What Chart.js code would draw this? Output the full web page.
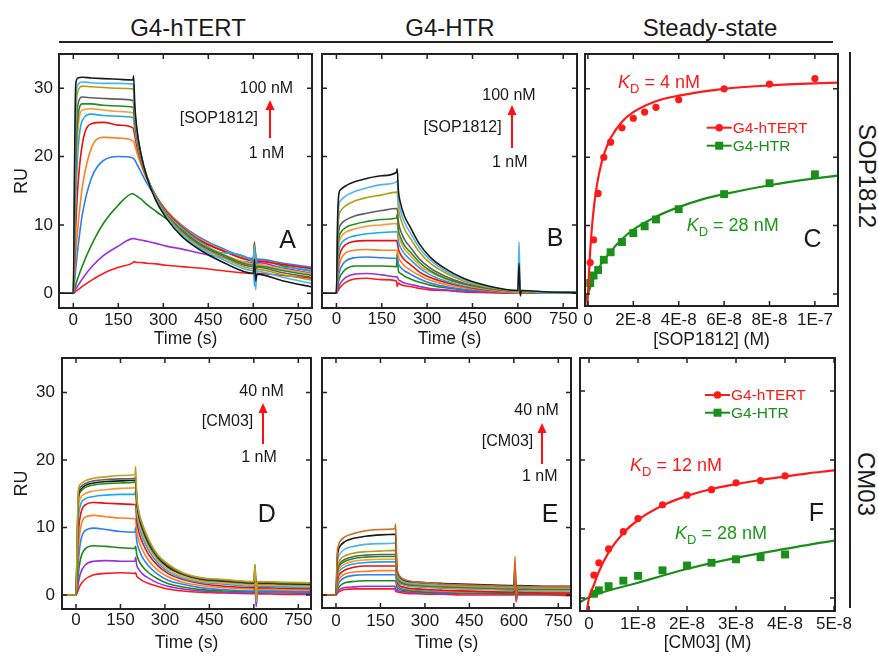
<!DOCTYPE html>
<html><head><meta charset="utf-8">
<script src="https://cdn.jsdelivr.net/npm/chart.js@4.4.1/dist/chart.umd.min.js"></script>
<style>
html,body{margin:0;padding:0;background:#fff;}
body{width:878px;height:656px;position:relative;overflow:hidden;font-family:"Liberation Sans",Arial,sans-serif;color:#1a1a1a;}
.box{position:absolute;}
.t{position:absolute;white-space:nowrap;line-height:1;}
.c{transform:translate(-50%,-50%);}
.l{transform:translateY(-50%);}
.r{transform:translate(-100%,-50%);}
.sub{font-size:13px;position:relative;top:5px;font-style:normal;}
.hline{position:absolute;background:#222;}
</style></head><body>

<div class="t c" style="left:188px;top:28px;font-size:24px">G4-hTERT</div>
<div class="t c" style="left:450px;top:28px;font-size:24px">G4-HTR</div>
<div class="t c" style="left:710px;top:28px;font-size:24px">Steady-state</div>
<div class="hline" style="left:59px;top:41px;width:774px;height:2px"></div>
<div class="hline" style="left:849px;top:52px;width:2px;height:556px"></div>
<div class="t c" style="left:867px;top:176px;font-size:24px;transform:translate(-50%,-50%) rotate(90deg)">SOP1812</div>
<div class="t c" style="left:866px;top:484px;font-size:24px;transform:translate(-50%,-50%) rotate(90deg)">CM03</div>

<div class="box" id="bA"><canvas id="cA"></canvas></div>
<div class="box" id="bB"><canvas id="cB"></canvas></div>
<div class="box" id="bC"><canvas id="cC"></canvas></div>
<div class="box" id="bD"><canvas id="cD"></canvas></div>
<div class="box" id="bE"><canvas id="cE"></canvas></div>
<div class="box" id="bF"><canvas id="cF"></canvas></div>

<!-- annotations -->
<div class="t c" style="left:266.5px;top:88px;font-size:16px">100 nM</div>
<div class="t r" style="left:258px;top:118px;font-size:16px">[SOP1812]</div>
<div class="t c" style="left:266.5px;top:153px;font-size:16px">1 nM</div>
<svg style="position:absolute;left:264px;top:100px" width="12" height="38"><line x1="6" y1="8" x2="6" y2="38" stroke="#ff1010" stroke-width="2"/><polygon points="6,0 1.5,10 10.5,10" fill="#ff1010"/></svg>
<div class="t c" style="left:287.5px;top:239px;font-size:25px">A</div>

<div class="t c" style="left:509px;top:95px;font-size:16px">100 nM</div>
<div class="t r" style="left:501.7px;top:127px;font-size:16px">[SOP1812]</div>
<div class="t c" style="left:509.7px;top:162px;font-size:16px">1 nM</div>
<svg style="position:absolute;left:505.7px;top:105px" width="12" height="43"><line x1="6" y1="8" x2="6" y2="43" stroke="#ff1010" stroke-width="2"/><polygon points="6,0 1.5,10 10.5,10" fill="#ff1010"/></svg>
<div class="t c" style="left:555px;top:237px;font-size:25px">B</div>

<div class="t l" style="left:618px;top:82px;font-size:18px;color:#ff1a1a"><i>K</i><span class="sub">D</span> = 4 nM</div>
<div class="t l" style="left:686.7px;top:225px;font-size:18px;color:#1a9a1a"><i>K</i><span class="sub">D</span> = 28 nM</div>
<div class="t c" style="left:812.5px;top:238px;font-size:25px">C</div>

<div class="t c" style="left:261.5px;top:390.7px;font-size:16px">40 nM</div>
<div class="t r" style="left:253.3px;top:420.7px;font-size:16px">[CM03]</div>
<div class="t c" style="left:259px;top:457.3px;font-size:16px">1 nM</div>
<svg style="position:absolute;left:257.3px;top:402.7px" width="12" height="41"><line x1="6" y1="8" x2="6" y2="41" stroke="#ff1010" stroke-width="2"/><polygon points="6,0 1.5,10 10.5,10" fill="#ff1010"/></svg>
<div class="t c" style="left:266.7px;top:513px;font-size:25px">D</div>

<div class="t c" style="left:536.5px;top:410px;font-size:16px">40 nM</div>
<div class="t r" style="left:533.3px;top:441px;font-size:16px">[CM03]</div>
<div class="t c" style="left:539.7px;top:475.7px;font-size:16px">1 nM</div>
<svg style="position:absolute;left:535.7px;top:422.7px" width="12" height="41"><line x1="6" y1="8" x2="6" y2="41" stroke="#ff1010" stroke-width="2"/><polygon points="6,0 1.5,10 10.5,10" fill="#ff1010"/></svg>
<div class="t c" style="left:550px;top:513px;font-size:25px">E</div>

<div class="t l" style="left:630px;top:465px;font-size:18px;color:#ff1a1a"><i>K</i><span class="sub">D</span> = 12 nM</div>
<div class="t l" style="left:675px;top:533.3px;font-size:18px;color:#1a9a1a"><i>K</i><span class="sub">D</span> = 28 nM</div>
<div class="t c" style="left:816.5px;top:511.7px;font-size:25px">F</div>

<script>
// ---------------- DATA ----------------
const timeS = [-48, 0, 4, 8, 15, 30, 60, 100, 150, 199, 201, 205, 212, 225, 245, 275, 310, 360, 420, 500, 600, 604, 608, 612, 700, 798];
const timeTicks = [0, 150, 300, 450, 600, 750];
const timeTickLabels = ['0', '150', '300', '450', '600', '750'];
const ruTicks = [0, 10, 20, 30];
const ruTickLabels = ['0', '10', '20', '30'];

// Panel A: G4-hTERT + SOP1812 (1 nM -> 100 nM)
const sensA = [
  [0,0,0.1,0.3,0.5,1.0,1.9,2.9,3.8,4.5,4.6,4.6,4.5,4.5,4.4,4.3,4.1,3.9,3.7,3.3,2.9,4.0,2.5,2.9,2.6,2.2],
  [0,0,0.3,0.6,1.1,2.1,3.8,5.5,6.9,8.0,8.0,8.0,7.9,7.8,7.6,7.3,6.9,6.5,5.9,5.2,4.5,6.0,3.8,4.5,3.7,2.9],
  [0,0,0.6,1.2,2.2,4.0,7.0,10.2,12.9,14.6,14.5,14.4,14.2,13.8,13.0,12.0,10.9,9.3,7.7,6.2,4.9,7.0,3.5,4.9,4.0,3.2],
  [0,0,1.6,3.5,6.5,11.5,16.8,19.4,20.0,19.8,19.7,19.5,18.9,17.8,16.1,14.1,12.1,10.0,8.2,6.5,5.1,6.8,4.0,5.0,4.4,3.8],
  [0,0,2.5,5.5,9.5,15.5,21.2,22.8,22.7,22.3,22.2,21.7,20.6,18.9,16.7,14.3,12.1,9.9,8.0,6.3,4.9,6.5,3.0,4.8,4.2,3.5],
  [0,0,4,9.5,15.5,21.8,24.8,25.0,24.6,24.2,24.0,23.0,21.5,19.4,16.9,14.3,12.0,9.8,7.8,6.2,4.8,7.5,3.5,4.7,4.2,3.6],
  [0,0,5.5,13,20.5,25.3,26.2,26.0,25.9,25.7,25.4,24.0,22.1,19.7,17.0,14.2,11.8,9.6,7.6,5.9,4.5,1.0,6.0,4.4,3.8,3.3],
  [0,0,7,16,23.5,26.8,27.0,26.8,26.6,26.4,26.1,24.5,22.4,19.9,17.1,14.1,11.7,9.4,7.4,5.7,4.3,6.8,3.2,4.2,3.5,2.8],
  [0,0,8,18,25.5,27.7,27.7,27.5,27.4,27.2,26.9,25.0,22.7,20.0,17.1,14.1,11.6,9.3,7.3,5.6,4.1,7.2,3.0,4.0,3.3,2.6],
  [0,0,10,21,27.5,28.7,28.6,28.5,28.4,28.2,27.9,25.5,23.0,20.2,17.1,14.0,11.5,9.1,7.1,5.4,3.9,6.0,2.5,3.8,3.0,2.3],
  [0,0,12,25,29.5,30.3,30.2,30.1,30.0,29.9,29.6,26.4,23.5,20.4,17.1,13.9,11.4,8.9,6.9,5.2,3.6,6.5,2.0,3.5,2.7,1.9],
  [0,0,15,28,30.5,30.9,30.8,30.7,30.7,30.6,30.2,27.0,23.8,20.5,17.1,13.8,11.2,8.7,6.7,4.9,3.3,7.0,0.5,3.2,2.3,1.4],
  [0,0,18,30.5,31.5,31.6,31.5,31.4,31.3,31.2,31.8,27.5,24.0,20.5,17.0,13.6,11.0,8.4,6.4,4.5,2.9,5.0,1.8,2.8,1.8,0.9]
];

// Panel B: G4-HTR + SOP1812
const sensB = [
  [0,0,0.3,0.6,1.0,1.6,2.1,2.2,2.0,1.8,1.0,1.5,1.3,1.1,1.0,0.7,0.5,0.4,0.2,0.1,0.0,0.3,0.0,0.1,0.0,0.0],
  [0,0,0.5,1.0,1.6,2.3,2.8,2.9,2.7,2.4,2.4,2.0,1.8,1.5,1.3,1.0,0.7,0.5,0.3,0.2,0.1,0.4,0.0,0.1,0.0,0.0],
  [0,0,1.0,1.9,2.7,3.5,4.0,4.0,4.0,3.9,6.0,3.3,2.9,2.5,2.1,1.6,1.2,0.8,0.5,0.3,0.1,0.6,0.0,0.1,0.1,0.0],
  [0,0,1.5,2.8,3.8,4.7,5.2,5.3,5.2,5.1,5.1,4.3,3.8,3.3,2.8,2.1,1.5,1.0,0.6,0.3,0.1,0.8,0.0,0.2,0.1,0.0],
  [0,0,2.2,3.8,5.0,5.9,6.3,6.4,6.3,6.3,6.3,5.3,4.7,4.0,3.4,2.6,1.9,1.3,0.8,0.4,0.1,1.0,0.0,0.2,0.1,0.0],
  [0,0,3.0,5.0,6.2,7.1,7.6,7.7,7.7,7.7,7.5,6.5,5.7,4.9,4.2,3.1,2.3,1.6,1.0,0.5,0.2,1.2,0.0,0.2,0.1,0.0],
  [0,0,4.0,6.2,7.2,7.9,8.4,8.7,8.9,9.0,9.0,7.6,6.7,5.8,4.9,3.7,2.7,1.8,1.1,0.6,0.2,1.5,0.1,0.2,0.1,0.0],
  [0,0,4.8,7.2,8.2,8.9,9.4,9.8,10.0,10.2,10.2,8.6,7.6,6.5,5.5,4.1,3.1,2.1,1.3,0.6,0.2,1.8,0.1,0.2,0.1,0.0],
  [0,0,5.5,8.0,8.9,9.6,10.1,10.5,10.8,11.0,11.5,9.3,8.2,7.0,6.0,4.5,3.3,2.2,1.4,0.7,0.3,2.0,0.1,0.3,0.1,0.1],
  [0,0,6.5,9.2,10.1,10.7,11.3,11.7,12.1,12.4,12.4,10.5,9.2,7.9,6.7,5.0,3.7,2.5,1.5,0.8,0.3,2.5,0.0,0.3,0.1,0.1],
  [0,0,8.0,11.2,12.1,12.8,13.5,14.0,14.4,14.8,14.8,12.5,11.0,9.4,8.0,6.0,4.4,3.0,1.8,0.9,0.3,3.0,0.0,0.3,0.1,0.1],
  [0,0,9.5,12.8,13.6,14.2,14.9,15.4,15.9,16.3,16.5,13.8,12.1,10.4,8.8,6.6,4.9,3.3,2.0,1.0,0.4,7.5,0.2,0.4,0.1,0.1],
  [0,0,11,14.5,15.2,15.7,16.3,16.8,17.2,17.7,18.2,15.0,13.2,11.3,9.6,7.2,5.3,3.6,2.2,1.1,0.4,4.4,-0.4,0.4,0.2,0.1]
];

// Panel D: G4-hTERT + CM03 (1 nM -> 40 nM)
const sensD = [
  [0,0,0.3,0.8,1.5,2.3,3.0,3.2,3.3,3.2,3.3,2.8,2.5,2.1,1.7,1.3,0.9,0.6,0.4,0.3,0.2,0.5,0.0,0.2,0.1,0.1],
  [0,0,0.7,1.8,3.2,4.4,5.0,5.1,5.0,5.0,5.6,4.4,3.8,3.1,2.5,1.8,1.3,0.9,0.6,0.4,0.3,0.8,-1.7,0.3,0.3,0.2],
  [0,0,1.2,3.2,5.3,6.8,7.3,7.2,7.0,6.9,7.2,6.0,5.1,4.2,3.3,2.4,1.7,1.2,0.8,0.6,0.5,1.2,-0.5,0.5,0.5,0.4],
  [0,0,2,5,7.8,9.5,9.9,9.7,9.4,9.3,10.0,8.0,6.8,5.5,4.3,3.1,2.2,1.6,1.1,0.8,0.6,1.5,-0.5,0.6,0.6,0.5],
  [0,0,3,7,9.8,11.5,11.8,11.6,11.4,11.3,11.2,9.4,8.0,6.6,5.1,3.7,2.7,1.9,1.4,1.1,0.9,1.8,-0.2,0.9,0.8,0.7],
  [0,0,4,9,11.8,13.3,13.7,13.6,13.5,13.4,13.4,11.0,9.3,7.7,6.0,4.4,3.2,2.3,1.7,1.3,1.1,2.0,0.0,1.1,1.0,0.9],
  [0,0,5,11,13.3,14.2,14.6,14.8,14.9,14.9,15.5,12.2,10.3,8.5,6.6,4.8,3.5,2.5,1.9,1.6,1.3,2.5,0.0,1.3,1.2,1.1],
  [0,0,6,12.5,14.3,15.0,15.4,15.6,15.8,15.9,16.0,13.0,11.0,9.1,7.1,5.2,3.8,2.7,2.1,1.8,1.5,2.8,0.3,1.5,1.4,1.3],
  [0,0,6.5,14,15.3,15.9,16.3,16.5,16.6,16.7,16.8,13.8,11.6,9.6,7.5,5.5,4.1,3.0,2.3,2.0,1.7,4.5,0.5,1.7,1.6,1.5],
  [0,0,7,14.5,15.6,16.2,16.6,16.8,16.9,17.0,17.0,14.0,11.8,9.8,7.7,5.7,4.2,3.1,2.4,2.1,1.8,3.0,0.8,1.8,1.7,1.6],
  [0,0,7.5,15,16,16.5,16.9,17.1,17.2,17.3,17.5,14.3,12.1,10.1,7.9,5.8,4.4,3.2,2.5,2.2,1.9,3.8,0.5,1.9,1.8,1.7],
  [0,0,8,15.5,16.4,16.9,17.3,17.5,17.7,17.8,19.0,14.7,12.4,10.4,8.3,6.0,4.6,3.3,2.6,2.3,2.0,4.5,-1.0,2.0,1.9,1.8]
];

// Panel E: G4-HTR + CM03
const sensE = [
  [0,0,0.2,0.4,0.6,0.8,0.9,0.9,0.9,0.9,0.9,0.5,0.4,0.3,0.2,0.2,0.1,0.1,0.0,0.0,0.0,0.3,-0.2,0.0,0.0,-0.1],
  [0,0,0.3,0.6,0.9,1.1,1.2,1.3,1.3,1.3,0.5,0.8,0.6,0.5,0.4,0.3,0.3,0.2,0.2,0.2,0.1,0.5,-1.0,0.1,0.1,0.1],
  [0,0,0.6,1.0,1.4,1.8,2.0,2.1,2.1,2.1,2.1,1.2,0.9,0.7,0.6,0.5,0.4,0.4,0.3,0.3,0.2,0.8,-0.3,0.2,0.2,0.2],
  [0,0,1.0,1.6,2.1,2.6,2.9,3.0,3.0,3.0,3.0,1.7,1.2,0.9,0.8,0.7,0.6,0.5,0.5,0.4,0.4,1.0,-0.5,0.4,0.3,0.3],
  [0,0,1.4,2.1,2.6,3.1,3.4,3.5,3.6,3.6,3.6,2.0,1.4,1.1,0.9,0.8,0.7,0.6,0.5,0.5,0.4,1.2,-0.3,0.4,0.4,0.3],
  [0,0,1.8,2.7,3.2,3.7,4.1,4.3,4.3,4.3,4.3,2.3,1.5,1.2,1.0,0.9,0.8,0.7,0.6,0.5,0.4,1.5,-0.5,0.4,0.3,0.3],
  [0,0,2.2,3.2,3.7,4.2,4.6,4.8,4.9,4.9,5.0,2.6,1.8,1.5,1.3,1.2,1.1,1.0,0.9,0.8,0.7,1.8,-0.2,0.7,0.6,0.6],
  [0,0,2.6,3.6,4.1,4.6,5.0,5.2,5.3,5.3,5.3,2.8,2.0,1.6,1.4,1.3,1.2,1.1,1.0,0.9,0.8,2.0,0.0,0.8,0.7,0.7],
  [0,0,3.0,4.0,4.5,5.0,5.4,5.6,5.7,5.7,5.8,3.0,2.1,1.7,1.5,1.4,1.3,1.2,1.1,1.0,0.9,2.2,0.0,0.9,0.8,0.8],
  [0,0,3.3,4.3,4.8,5.3,5.7,5.9,6.0,6.0,6.1,3.1,2.2,1.8,1.6,1.5,1.4,1.3,1.2,1.1,1.0,2.5,0.0,1.0,0.9,0.9],
  [0,0,3.6,4.7,5.3,5.8,6.2,6.4,6.5,6.6,6.6,3.4,2.4,2.0,1.7,1.6,1.5,1.4,1.3,1.2,1.1,3.0,0.0,1.1,1.0,1.0],
  [0,0,4.4,5.6,6.2,6.8,7.2,7.5,7.6,7.7,7.8,3.8,2.6,2.1,1.8,1.7,1.6,1.5,1.4,1.3,1.2,3.5,0.0,1.2,1.1,1.1],
  [0,0,5.3,6.6,7.3,7.9,8.4,8.7,8.9,9.0,9.0,4.2,2.9,2.3,2.0,1.9,1.8,1.7,1.6,1.5,1.4,4.5,-0.5,1.4,1.3,1.3],
  [0,0,6.0,7.3,8.0,8.6,9.1,9.5,9.7,9.8,10.5,4.5,3.0,2.4,2.1,1.9,1.8,1.6,1.5,1.4,1.3,5.7,-1.0,1.3,1.2,1.2]
];

// Panel C: steady state SOP1812
const concSOP = [1e-9, 2.5e-9, 4.5e-9, 7e-9, 1e-8, 1.5e-8, 2e-8, 2.5e-8, 3e-8, 4e-8, 6e-8, 8e-8, 1e-7];
const ssSOP_hTERT = [4.6, 7.9, 14.7, 20.0, 22.2, 24.3, 25.7, 26.6, 27.3, 28.4, 30.0, 30.7, 31.5];
const ssSOP_HTR = [1.6, 2.7, 3.5, 5.0, 6.1, 7.6, 8.9, 9.9, 10.9, 12.4, 14.6, 16.2, 17.5];
const fitSOP_hTERT_x = [-3e-10, 0, 1e-9, 2e-9, 3e-9, 4e-9, 6e-9, 8e-9, 1e-8, 1.5e-8, 2e-8, 3e-8, 4e-8, 6e-8, 8e-8, 1e-7, 1.1e-7];
const fitSOP_hTERT_y = [-2.5, 0, 6.3, 10.6, 13.7, 16.0, 19.2, 21.3, 22.8, 25.2, 26.6, 28.2, 29.0, 30.0, 30.5, 30.8, 30.9];
const fitSOP_HTR_x = [-1.3e-9, 0, 2e-9, 5e-9, 1e-8, 1.5e-8, 2e-8, 3e-8, 4e-8, 5e-8, 6e-8, 8e-8, 1e-7, 1.1e-7];
const fitSOP_HTR_y = [-1.3, 0, 1.8, 3.9, 6.2, 8.0, 9.4, 11.3, 12.7, 13.8, 14.6, 15.9, 16.9, 17.3];
const sopTicks = [0, 2e-8, 4e-8, 6e-8, 8e-8, 1e-7];
const sopTickLabels = ['0', '2E-8', '4E-8', '6E-8', '8E-8', '1E-7'];

// Panel F: steady state CM03
const concCM = [1e-9, 2e-9, 4e-9, 7e-9, 1e-8, 1.5e-8, 2e-8, 2.5e-8, 3e-8, 3.5e-8, 4e-8];
const ssCM_hTERT = [3.3, 5.1, 7.1, 9.6, 11.5, 13.5, 14.9, 15.7, 16.7, 17.0, 17.7];
const ssCM_HTR = [0.6, 1.1, 1.7, 2.5, 3.2, 4.0, 4.7, 5.1, 5.6, 5.9, 6.3];
const fitCM_hTERT_x = [-5e-10, 0, 1e-9, 2e-9, 4e-9, 7e-9, 1e-8, 1.5e-8, 2e-8, 2.5e-8, 3e-8, 3.5e-8, 4e-8, 4.5e-8, 5e-8, 5.1e-8];
const fitCM_hTERT_y = [-2.2, 0, 1.9, 3.8, 6.6, 9.4, 11.3, 13.4, 14.8, 15.8, 16.5, 17.1, 17.6, 18.1, 18.5, 18.6];
const fitCM_HTR_x = [-2e-9, 0, 1e-8, 2e-8, 3e-8, 4e-8, 5e-8, 5.1e-8];
const fitCM_HTR_y = [-0.7, 0.1, 2.2, 4.2, 5.8, 7.1, 8.3, 8.4];
const cmTicks = [0, 1e-8, 2e-8, 3e-8, 4e-8, 5e-8];
const cmTickLabels = ['0', '1E-8', '2E-8', '3E-8', '4E-8', '5E-8'];

// ---------------- STYLE ----------------
const palSOP = ['#ff1a1a','#9b30e0','#1a8a1a','#2b7ff0','#ff8020','#e81010','#1ea6f0','#ff9a30','#209020','#606060','#b0a010','#50b4ee','#1a1a1a'];
const palD = ['#ff1a1a','#9b30e0','#1a8a1a','#2b7ff0','#ff8020','#e81010','#1ea6f0','#ff9a30','#209020','#1a1a1a','#606060','#c0a020'];
const palE = ['#ff1a1a','#9b30e0','#1a8a1a','#2b7ff0','#ff8020','#e81010','#1ea6f0','#ff9a30','#209020','#606060','#b0a010','#50b4ee','#1a1a1a','#d06a1a'];
const RED = '#ff1a1a', GREEN = '#1a8f1a';
const FONT = '"Liberation Sans", Arial, sans-serif';
const INK = '#1a1a1a';
const YW = 60, PT = 20, PR = 24, XH = 50;

const frameTicks = {
  id: 'frameTicks',
  afterDatasetsDraw(chart, args, opts) {
    const {ctx, chartArea: a, scales: {x, y}} = chart;
    ctx.save();
    ctx.strokeStyle = '#222';
    ctx.lineWidth = 1.5;
    ctx.beginPath();
    const L = 5;
    x.ticks.forEach(t => {
      const px = x.getPixelForValue(t.value);
      ctx.moveTo(px, a.bottom); ctx.lineTo(px, a.bottom - L);
      ctx.moveTo(px, a.top); ctx.lineTo(px, a.top + L);
    });
    y.ticks.forEach(t => {
      const py = y.getPixelForValue(t.value);
      ctx.moveTo(a.left, py); ctx.lineTo(a.left + L, py);
      ctx.moveTo(a.right, py); ctx.lineTo(a.right - L, py);
    });
    ctx.stroke();
    ctx.lineWidth = 2;
    ctx.strokeRect(a.left, a.top, a.right - a.left, a.bottom - a.top);
    if (opts && opts.legend) {
      const lg = opts.legend;
      const items = chart.data.datasets.filter(d => d.legendShape);
      items.forEach((d, k) => {
        const x0 = a.left + lg.x, yy = a.top + lg.y + k * lg.dy;
        ctx.strokeStyle = d.backgroundColor; ctx.fillStyle = d.backgroundColor; ctx.lineWidth = 2;
        ctx.beginPath(); ctx.moveTo(x0, yy); ctx.lineTo(x0 + 25, yy); ctx.stroke();
        if (d.legendShape === 'circle') { ctx.beginPath(); ctx.arc(x0 + 12.5, yy, 3.8, 0, Math.PI * 2); ctx.fill(); }
        else { ctx.fillRect(x0 + 8.5, yy - 4, 8, 8); }
        ctx.font = '15.5px ' + FONT; ctx.textBaseline = 'middle'; ctx.textAlign = 'left';
        ctx.fillText(d.label, x0 + 26, yy + 1);
      });
    }
    ctx.restore();
  }
};

function place(id, r) {
  const el = document.getElementById(id);
  el.style.left = (r.L - YW) + 'px';
  el.style.top = (r.T - PT) + 'px';
  el.style.width = (r.R - r.L + YW + PR) + 'px';
  el.style.height = (r.B - r.T + PT + XH) + 'px';
}

function makeChart(canvasId, boxId, r, cfg) {
  place(boxId, r);
  return new Chart(document.getElementById(canvasId), {
    type: 'scatter',
    data: {datasets: cfg.datasets},
    plugins: [frameTicks],
    options: {
      animation: false, responsive: true, maintainAspectRatio: false, devicePixelRatio: 1,
      layout: {padding: {left: 0, top: PT, right: PR, bottom: 0}},
      plugins: {legend: {display: false}, tooltip: {enabled: false}, frameTicks: {legend: cfg.legend || null}},
      scales: {
        x: {
          type: 'linear', min: cfg.xr[0], max: cfg.xr[1],
          afterBuildTicks: s => { s.ticks = cfg.xt.map(v => ({value: v})); },
          afterFit: s => { s.height = XH; },
          grid: {display: false, drawTicks: false}, border: {display: false},
          ticks: {padding: cfg.xtp, font: {family: FONT, size: 17}, color: INK, maxRotation: 0, autoSkip: false,
                  callback: v => cfg.xl[cfg.xt.indexOf(v)]},
          title: {display: true, text: cfg.xTitle, font: {family: FONT, size: 17.5}, color: INK, padding: {top: 0, bottom: cfg.xpb}}
        },
        y: {
          type: 'linear', min: cfg.yr[0], max: cfg.yr[1],
          afterBuildTicks: s => { s.ticks = ruTicks.map(v => ({value: v})); },
          afterFit: s => { s.width = YW; },
          grid: {display: false, drawTicks: false}, border: {display: false},
          ticks: {display: !!cfg.showY, padding: cfg.ytp || 6, font: {family: FONT, size: 17}, color: INK,
                  callback: v => ruTickLabels[ruTicks.indexOf(v)]},
          title: {display: !!cfg.showY, text: 'RU', font: {family: FONT, size: 18}, color: INK, padding: {top: cfg.ypt || 0, bottom: 0}}
        }
      }
    }
  });
}

function sensorgramSets(curves, pal) {
  return curves.map((vals, i) => ({
    data: timeS.map((t, j) => ({x: t, y: vals[j]})),
    borderColor: pal[i], backgroundColor: pal[i], borderWidth: 1.6,
    pointRadius: 0, showLine: true, fill: false, cubicInterpolationMode: 'monotone',
    order: curves.length - i
  }));
}

function pts(xs, ys) { return xs.map((x, i) => ({x: x, y: ys[i]})); }

makeChart('cA', 'bA', {L: 59, T: 54, R: 312, B: 308}, {
  datasets: sensorgramSets(sensA, palSOP), xr: [-47.7, 795.7], yr: [-2.15, 35.0],
  xt: timeTicks, xl: timeTickLabels, xtp: 2, xTitle: 'Time (s)', xpb: 8.2, showY: true, ytp: 6, ypt: 11.9
});
makeChart('cB', 'bB', {L: 322, T: 54, R: 577, B: 308}, {
  datasets: sensorgramSets(sensB, palSOP), xr: [-47.7, 795.7], yr: [-2.15, 35.0],
  xt: timeTicks, xl: timeTickLabels, xtp: 1, xTitle: 'Time (s)', xpb: 8.2
});
makeChart('cC', 'bC', {L: 585, T: 54, R: 838, B: 306}, {
  datasets: [
    {label: 'G4-hTERT', legendShape: 'circle', data: pts(concSOP, ssSOP_hTERT), pointStyle: 'circle', pointRadius: 3.6, backgroundColor: RED, borderColor: RED, borderWidth: 0, showLine: false, order: 1},
    {data: pts(fitSOP_hTERT_x, fitSOP_hTERT_y), showLine: true, pointRadius: 0, borderColor: RED, backgroundColor: RED, borderWidth: 2.2, cubicInterpolationMode: 'monotone', order: 2},
    {label: 'G4-HTR', legendShape: 'rect', data: pts(concSOP, ssSOP_HTR), pointStyle: 'rect', pointRadius: 5.6, backgroundColor: GREEN, borderColor: GREEN, borderWidth: 0, showLine: false, order: 3},
    {data: pts(fitSOP_HTR_x, fitSOP_HTR_y), showLine: true, pointRadius: 0, borderColor: GREEN, backgroundColor: GREEN, borderWidth: 2.2, cubicInterpolationMode: 'monotone', order: 4}
  ],
  legend: {x: 121.7, y: 73.7, dy: 18},
  xr: [-1.28e-9, 1.1017e-7], yr: [-1.76, 35.1],
  xt: sopTicks, xl: sopTickLabels, xtp: 3.8, xTitle: '[SOP1812] (M)', xpb: 5.5
});
makeChart('cD', 'bD', {L: 62, T: 358, R: 311, B: 609}, {
  datasets: sensorgramSets(sensD, palD), xr: [-47.2, 792.8], yr: [-2.07, 35.1],
  xt: timeTicks, xl: timeTickLabels, xtp: 1, xTitle: 'Time (s)', xpb: 5.2, showY: true, ytp: 7, ypt: 8.9
});
makeChart('cE', 'bE', {L: 322, T: 358, R: 571, B: 608}, {
  datasets: sensorgramSets(sensE, palE), xr: [-47.2, 792.8], yr: [-1.93, 35.1],
  xt: timeTicks, xl: timeTickLabels, xtp: 3, xTitle: 'Time (s)', xpb: 4.2
});
makeChart('cF', 'bF', {L: 580, T: 358, R: 835, B: 611}, {
  datasets: [
    {label: 'G4-hTERT', legendShape: 'circle', data: pts(concCM, ssCM_hTERT), pointStyle: 'circle', pointRadius: 3.6, backgroundColor: RED, borderColor: RED, borderWidth: 0, showLine: false, order: 1},
    {data: pts(fitCM_hTERT_x, fitCM_hTERT_y), showLine: true, pointRadius: 0, borderColor: RED, backgroundColor: RED, borderWidth: 2.2, cubicInterpolationMode: 'monotone', order: 2},
    {label: 'G4-HTR', legendShape: 'rect', data: pts(concCM, ssCM_HTR), pointStyle: 'rect', pointRadius: 5.6, backgroundColor: GREEN, borderColor: GREEN, borderWidth: 0, showLine: false, order: 3},
    {data: pts(fitCM_HTR_x, fitCM_HTR_y), showLine: true, pointRadius: 0, borderColor: GREEN, backgroundColor: GREEN, borderWidth: 2.2, cubicInterpolationMode: 'monotone', order: 4}
  ],
  legend: {x: 125, y: 37, dy: 17.7},
  xr: [-1.84e-9, 5.02e-8], yr: [-1.9, 34.8],
  xt: cmTicks, xl: cmTickLabels, xtp: 2.8, xTitle: '[CM03] (M)', xpb: 7.2
});
</script>
</body></html>
